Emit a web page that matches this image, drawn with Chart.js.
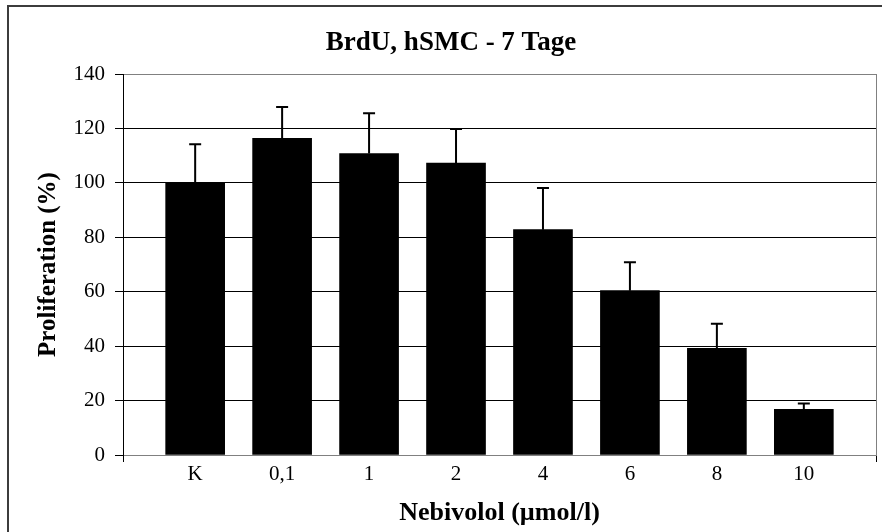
<!DOCTYPE html>
<html>
<head>
<meta charset="utf-8">
<script src="https://cdn.jsdelivr.net/npm/chart.js@4"></script>
<style>
  body { margin: 0; background: #fff; overflow: hidden; }
  #frame { position: absolute; left: 7px; top: 5px; width: 1000px; height: 1000px; border: 2px solid #3c3c3c; }
  #brdu { position: absolute; left: 0; top: 0; }
</style>
</head>
<body>
<div id="frame"></div>
<canvas id="brdu" width="882" height="532"></canvas>
<script>

const konzentrationen = ['K', '0,1', '1', '2', '4', '6', '8', '10'];
const proliferation = [100, 116.4, 110.8, 107.3, 82.8, 60.4, 39.2, 16.8];
const fehler = [14.2, 11.5, 14.8, 12.5, 15.3, 10.4, 9.0, 2.1];
const yTicks = [0, 20, 40, 60, 80, 100, 120, 140];

const xMin = -0.83;
const xMax = 7.83;

// Fehlerbalken nur nach oben, wie im Original
const fehlerbalken = {
  id: 'fehlerbalken',
  afterDatasetsDraw(chart) {
    const ctx = chart.ctx;
    const y = chart.scales.y;
    const meta = chart.getDatasetMeta(0);
    ctx.save();
    ctx.strokeStyle = '#000';
    ctx.lineWidth = 2;
    meta.data.forEach((bar, i) => {
      const top = y.getPixelForValue(proliferation[i] + fehler[i]);
      ctx.beginPath();
      ctx.moveTo(bar.x, bar.y);
      ctx.lineTo(bar.x, top);
      ctx.moveTo(bar.x - 6, top);
      ctx.lineTo(bar.x + 6, top);
      ctx.stroke();
    });
    ctx.restore();
  }
};

Chart.defaults.font.family = "'Liberation Serif', 'Times New Roman', serif";
Chart.defaults.color = '#000';

const isBound = (v) => v === xMin || v === xMax;

new Chart(document.getElementById('brdu'), {
  type: 'bar',
  data: {
    datasets: [{
      data: proliferation.map((v, i) => ({ x: i, y: v })),
      backgroundColor: '#000',
      borderWidth: 0,
      barThickness: 59
    }]
  },
  plugins: [fehlerbalken],
  options: {
    responsive: false,
    animation: false,
    layout: { padding: { left: 26, right: 6, top: 0, bottom: 0 } },
    plugins: {
      legend: { display: false },
      tooltip: { enabled: false },
      title: {
        display: true,
        text: 'BrdU, hSMC - 7 Tage',
        font: { size: 27, weight: 'bold' },
        color: '#000',
        padding: { top: 27, bottom: 14.6 }
      }
    },
    scales: {
      x: {
        type: 'linear',
        min: xMin,
        max: xMax,
        offset: false,
        afterBuildTicks: (scale) => {
          scale.ticks = [xMin].concat(konzentrationen.map((k, i) => i), [xMax]).map(v => ({ value: v }));
        },
        afterFit: (scale) => { scale.height = 77; },
        ticks: {
          autoSkip: false,
          maxRotation: 0,
          padding: 0,
          font: { size: 21 },
          callback: (v) => isBound(v) ? '' : konzentrationen[v]
        },
        grid: {
          offset: false,
          drawOnChartArea: true,
          tickLength: 7,
          color: (c) => c.tick && c.tick.value === xMax ? '#808080' : 'rgba(0,0,0,0)',
          tickColor: (c) => c.tick && isBound(c.tick.value) ? '#000' : 'rgba(0,0,0,0)'
        },
        border: { color: '#808080', width: 1 },
        title: {
          display: true,
          text: 'Nebivolol (µmol/l)',
          font: { size: 26, weight: 'bold' },
          padding: { top: 0, bottom: 3 }
        }
      },
      y: {
        min: 0,
        max: 140,
        afterBuildTicks: (scale) => {
          scale.ticks = yTicks.map(v => ({ value: v }));
        },
        afterFit: (scale) => { scale.width = 97; },
        ticks: {
          padding: 10,
          font: { size: 21 }
        },
        grid: {
          tickLength: 8,
          color: (c) => c.tick && (c.tick.value === 0 || c.tick.value === 140) ? '#808080' : '#000',
          tickColor: '#000'
        },
        border: { color: '#000', width: 1 },
        title: {
          display: true,
          text: 'Proliferation (%)',
          font: { size: 25, weight: 'bold' },
          padding: { top: 8, bottom: 0 }
        }
      }
    }
  }
});
</script>
</body>
</html>
